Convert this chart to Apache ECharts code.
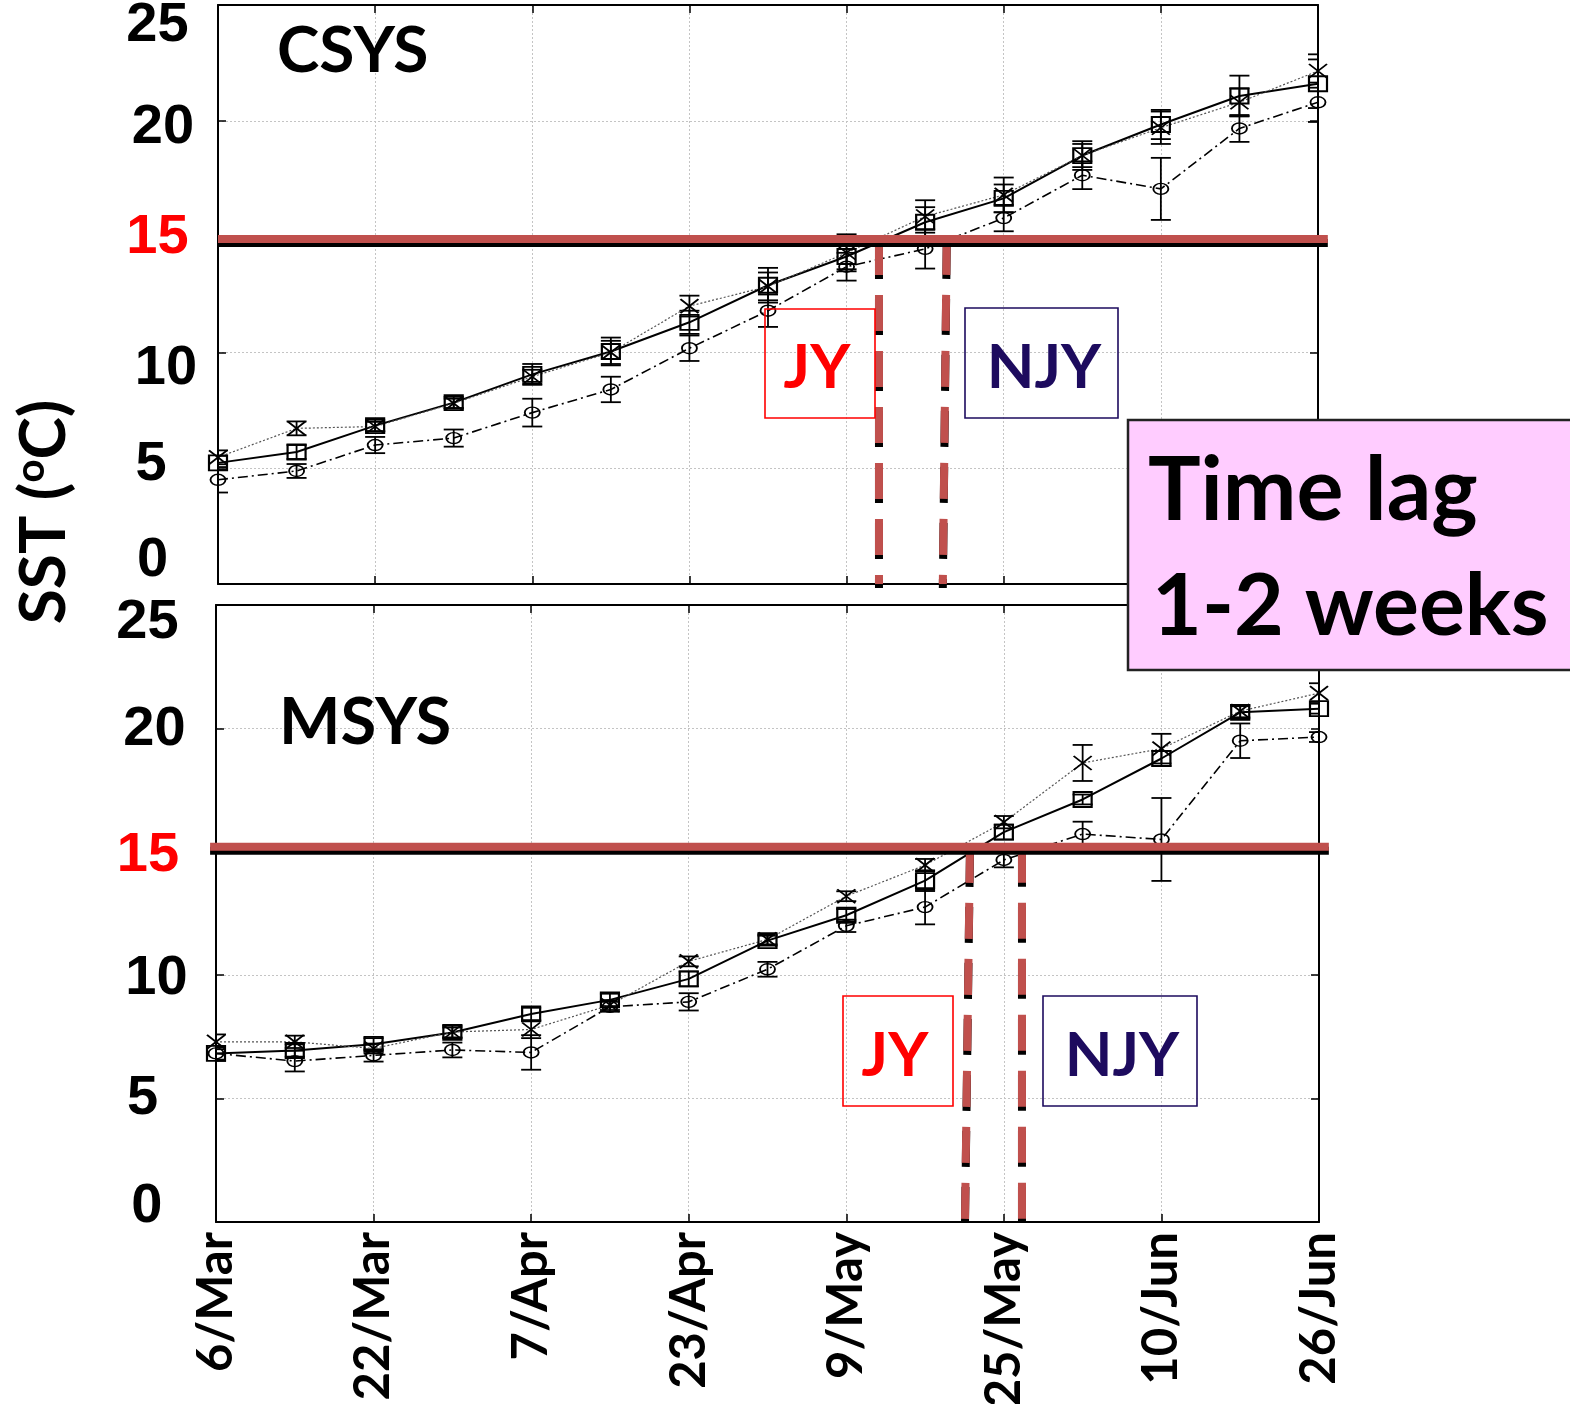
<!DOCTYPE html>
<html>
<head>
<meta charset="utf-8">
<script src="https://cdn.jsdelivr.net/npm/echarts@6/dist/echarts.min.js"></script>
<style>
  html, body { margin: 0; padding: 0; background: #fff; }
  #chart { width: 1570px; height: 1404px; }
</style>
</head>
<body>
<div id="chart"></div>
<script>
// 8-day sampling, offset in days from 6 March
var dayOffsets = [0, 8, 16, 24, 32, 40, 48, 56, 64, 72, 80, 88, 96, 104, 112];
var dayLabels = ['6/Mar', '14/Mar', '22/Mar', '30/Mar', '7/Apr', '15/Apr', '23/Apr', '1/May',
                 '9/May', '17/May', '25/May', '2/Jun', '10/Jun', '18/Jun', '26/Jun'];
var yTickValues = [0, 5, 10, 15, 20, 25];

// CSYS (top panel), SST in degC and error half-widths
var csysSquare = [5.23, 5.7, 6.84, 7.83, 9.05, 10.04, 11.3, 12.9, 14.14, 15.62, 16.65, 18.5, 19.84, 21.07, 21.6];
var csysSquareErr = [0.3, 0.3, 0.25, 0.25, 0.45, 0.6, 0.5, 0.75, 0.55, 0.65, 0.6, 0.5, 0.63, 0.88, 1.05];
var csysCross = [5.47, 6.72, 6.8, 7.8, 8.95, 10.0, 12.0, 12.85, 14.3, 15.87, 16.8, 18.5, 19.7, 20.8, 22.15];
var csysCrossErr = [0.3, 0.3, 0.2, 0.2, 0.3, 0.5, 0.45, 0.6, 0.8, 0.7, 0.75, 0.62, 0.7, 0.6, 0.72];
var csysCircle = [4.5, 4.88, 6.0, 6.3, 7.4, 8.4, 10.18, 11.8, 13.7, 14.47, 15.8, 17.65, 17.06, 19.67, 20.8];
var csysCircleErr = [0.55, 0.3, 0.35, 0.37, 0.6, 0.55, 0.55, 0.7, 0.6, 0.85, 0.57, 0.6, 1.34, 0.58, 0.85];
var csysThreshold = 14.9;
var csysThresholdSpan = [0, 113];
var csysLagLines = [[67.3, 67.3], [74.2, 73.8]];   // [day at top, day at bottom]

// MSYS (bottom panel)
var msysSquare = [6.83, 6.95, 7.2, 7.68, 8.43, 9.0, 9.85, 11.4, 12.43, 13.83, 15.8, 17.12, 18.78, 20.65, 20.8];
var msysSquareErr = [0.25, 0.25, 0.25, 0.2, 0.25, 0.25, 0.3, 0.2, 0.25, 0.42, 0.3, 0.2, 0.3, 0.25, 0.2];
var msysCross = [7.3, 7.3, 7.03, 7.7, 7.8, 8.79, 10.56, 11.45, 13.2, 14.46, 16.2, 18.6, 19.18, 20.7, 21.43];
var msysCrossErr = [0.3, 0.25, 0.2, 0.25, 0.35, 0.2, 0.2, 0.2, 0.2, 0.25, 0.25, 0.73, 0.6, 0.25, 0.4];
var msysCircle = [6.83, 6.52, 6.75, 6.97, 6.87, 8.72, 8.92, 10.24, 12.0, 12.76, 14.67, 15.72, 15.5, 19.5, 19.65];
var msysCircleErr = [0.3, 0.42, 0.25, 0.3, 0.7, 0.2, 0.35, 0.3, 0.25, 0.7, 0.3, 0.5, 1.68, 0.7, 0.2];
var msysThreshold = 15.2;
var msysThresholdSpan = [-0.6, 113];
var msysLagLines = [[76.56, 76.05], [81.84, 81.84]];

var RED = '#c0504d';
var LABEL_FONT = 'Lato';

// per-label nudges [dx, dy] of the hand placed y tick texts
var csysLabelShift = { 25: [-0.5, 21], 20: [5, 7], 15: [-0.5, 1], 10: [8, 16], 5: [-7, -4], 0: [-5.5, -23] };
var msysLabelShift = { 25: [-1.5, 18], 20: [5.5, 1], 15: [-1, 4], 10: [7.5, 3], 5: [-6.5, 0], 0: [-2.3, -15] };

var chart = echarts.init(document.getElementById('chart'));

function renderErrorBar(params, api) {
  var x = api.value(0);
  var top = api.coord([x, api.value(2)]);
  var bot = api.coord([x, api.value(1)]);
  var half = 10;
  var st = { stroke: '#000', lineWidth: 1.8, fill: null };
  return {
    type: 'group',
    children: [
      { type: 'line', shape: { x1: top[0], y1: top[1], x2: bot[0], y2: bot[1] }, style: st },
      { type: 'line', shape: { x1: top[0] - half, y1: top[1], x2: top[0] + half, y2: top[1] }, style: st },
      { type: 'line', shape: { x1: bot[0] - half, y1: bot[1], x2: bot[0] + half, y2: bot[1] }, style: st }
    ]
  };
}

// red marker segment with a black drop shadow underneath; item = [x0, y0, x1, y1]
function makeSegmentRenderer(dash) {
  return function (params, api) {
    var a = api.coord([api.value(0), api.value(1)]);
    var b = api.coord([api.value(2), api.value(3)]);
    return {
      type: 'line',
      shape: { x1: a[0], y1: a[1], x2: b[0], y2: b[1] },
      style: { stroke: RED, lineWidth: 8, lineDash: dash, fill: null,
               shadowColor: '#000', shadowBlur: 0, shadowOffsetX: 0, shadowOffsetY: 4 }
    };
  };
}

function pairs(vals) {
  return dayOffsets.map(function (d, i) { return [d, vals[i]]; });
}

function yLabel(margin, shifts) {
  var rich = {};
  yTickValues.forEach(function (v) {
    var dx = shifts[v][0], dy = shifts[v][1];
    rich['v' + v] = {
      fontFamily: 'Liberation Sans', fontWeight: 'bold', fontSize: 56,
      color: v === 15 ? '#ff0000' : '#000',
      padding: [Math.max(0, 2 * dy), Math.max(0, -2 * dx), Math.max(0, -2 * dy), Math.max(0, 2 * dx)]
    };
  });
  return {
    show: true, inside: false, margin: margin, align: 'center',
    showMinLabel: true, showMaxLabel: true,
    formatter: function (v) { return '{v' + v + '|' + v + '}'; },
    rich: rich
  };
}

var gridLine = { show: true, lineStyle: { color: '#c4c4c4', width: 1, type: [2, 2] } };
var axisLineBlack = { show: true, onZero: false, lineStyle: { color: '#000', width: 2 } };
var tickIn = { show: true, inside: true, length: 8, lineStyle: { color: '#000', width: 1.5 } };

function xAxisDef(gridIndex, position, withLabels, withGrid) {
  return {
    type: 'value', gridIndex: gridIndex, position: position,
    min: 0, max: 112, interval: 16,
    axisLine: axisLineBlack, axisTick: tickIn,
    splitLine: withGrid ? gridLine : { show: false },
    axisLabel: withLabels ? {
      show: true, rotate: 90, margin: 10,
      fontFamily: LABEL_FONT, fontWeight: 'bold', fontSize: 49, color: '#000',
      formatter: function (v) { var i = dayOffsets.indexOf(v); return i >= 0 ? dayLabels[i] : ''; }
    } : { show: false }
  };
}

function yAxisDef(gridIndex, position, label, withGrid) {
  return {
    type: 'value', gridIndex: gridIndex, position: position,
    min: 0, max: 25, interval: 5,
    axisLine: axisLineBlack, axisTick: tickIn,
    splitLine: withGrid ? gridLine : { show: false },
    axisLabel: label || { show: false }
  };
}

function panelSeries(p, sets, threshold, span, lagLines) {
  var ax = p * 2;
  var list = [];
  sets.forEach(function (s) {
    list.push({
      type: 'custom', xAxisIndex: ax, yAxisIndex: ax, clip: true, z: 3, silent: true,
      renderItem: renderErrorBar,
      data: dayOffsets.map(function (d, i) { return [d, s.vals[i] - s.err[i], s.vals[i] + s.err[i]]; })
    });
  });
  sets.forEach(function (s) {
    list.push({
      type: 'line', xAxisIndex: ax, yAxisIndex: ax, data: pairs(s.vals), z: 4, silent: true,
      showAllSymbol: true, symbol: s.symbol, symbolSize: s.size,
      lineStyle: s.line,
      itemStyle: { color: 'rgba(0,0,0,0)', borderColor: '#000', borderWidth: s.bw },
      emphasis: { disabled: true }
    });
  });
  list.push({
    type: 'custom', xAxisIndex: ax, yAxisIndex: ax, clip: false, z: 6, silent: true,
    renderItem: makeSegmentRenderer([36, 20]),
    data: lagLines.map(function (l) { return [l[0], threshold, l[1], 0]; })
  });
  list.push({
    type: 'custom', xAxisIndex: ax, yAxisIndex: ax, clip: false, z: 7, silent: true,
    renderItem: makeSegmentRenderer(null),
    data: [[span[0], threshold, span[1], threshold]]
  });
  return list;
}

function seriesSets(sq, sqE, cr, crE, ci, ciE) {
  return [
    { vals: sq, err: sqE, symbol: 'rect', size: [18, 15], bw: 2,
      line: { color: '#000', width: 2 } },
    { vals: cr, err: crE, symbol: 'path://M0,0L20,16M20,0L0,16', size: [18, 14], bw: 1.8,
      line: { color: '#555', width: 1.2, type: [2, 2] } },
    { vals: ci, err: ciE, symbol: 'path://M0,6A8,6 0 1,1 16,6A8,6 0 1,1 0,6Z', size: [15, 11], bw: 1.6,
      line: { color: '#000', width: 1.6, type: [10, 4, 2, 4] } }
  ];
}

var series = []
  .concat(panelSeries(0, seriesSets(csysSquare, csysSquareErr, csysCross, csysCrossErr, csysCircle, csysCircleErr),
    csysThreshold, csysThresholdSpan, csysLagLines))
  .concat(panelSeries(1, seriesSets(msysSquare, msysSquareErr, msysCross, msysCrossErr, msysCircle, msysCircleErr),
    msysThreshold, msysThresholdSpan, msysLagLines));

function boxText(x, y, w, h, text, color, tx, ty) {
  return [
    { type: 'rect', z: 90, shape: { x: x, y: y, width: w, height: h },
      style: { fill: 'rgba(0,0,0,0)', stroke: color, lineWidth: 1.6 } },
    { type: 'text', z: 91, x: tx, y: ty,
      style: { text: text, fill: color, fontFamily: LABEL_FONT, fontWeight: 'bold', fontSize: 62,
               align: 'center', verticalAlign: 'middle' } }
  ];
}

var graphics = []
  .concat([
    { type: 'text', z: 90, x: 277, y: 51,
      style: { text: 'CSYS', fill: '#000', fontFamily: LABEL_FONT, fontWeight: 'bold', fontSize: 64,
               align: 'left', verticalAlign: 'middle' } },
    { type: 'text', z: 90, x: 279, y: 723,
      style: { text: 'MSYS', fill: '#000', fontFamily: LABEL_FONT, fontWeight: 'bold', fontSize: 65,
               align: 'left', verticalAlign: 'middle' } }
  ])
  .concat(boxText(765, 309, 110, 109, 'JY', '#ff0000', 817, 368))
  .concat(boxText(965, 308, 153, 110, 'NJY', '#1d0b5e', 1044, 368))
  .concat(boxText(843, 996, 110, 110, 'JY', '#ff0000', 895, 1056))
  .concat(boxText(1043, 996, 154, 110, 'NJY', '#1d0b5e', 1122, 1056))
  .concat([
    { type: 'rect', z: 95, shape: { x: 1128, y: 420, width: 460, height: 250 },
      style: { fill: '#ffccff', stroke: '#222', lineWidth: 2.5 } },
    { type: 'text', z: 96, x: 1148, y: 492,
      style: { text: 'Time lag', fill: '#000', fontFamily: LABEL_FONT, fontWeight: 'bold', fontSize: 88,
               align: 'left', verticalAlign: 'middle' } },
    { type: 'text', z: 96, x: 1152, y: 607,
      style: { text: '1-2 weeks', fill: '#000', fontFamily: LABEL_FONT, fontWeight: 'bold', fontSize: 86,
               align: 'left', verticalAlign: 'middle' } },
    { type: 'text', z: 96, x: 44, y: 512, rotation: Math.PI / 2,
      style: {
        text: '{a|SST (}{o|o}{a|C)}', align: 'center', verticalAlign: 'middle',
        rich: {
          a: { fill: '#000', fontFamily: LABEL_FONT, fontWeight: 'bold', fontSize: 64 },
          o: { fill: '#000', fontFamily: LABEL_FONT, fontWeight: 'bold', fontSize: 40, padding: [0, 0, 26, 0] }
        }
      } }
  ]);

var option = {
  animation: false,
  backgroundColor: '#fff',
  grid: [
    { left: 218, top: 5, width: 1100, height: 579, outerBoundsMode: 'none', containLabel: false },
    { left: 216, top: 605, width: 1103, height: 617, outerBoundsMode: 'none', containLabel: false }
  ],
  xAxis: [
    xAxisDef(0, 'bottom', false, true),
    xAxisDef(0, 'top', false, false),
    xAxisDef(1, 'bottom', true, true),
    xAxisDef(1, 'top', false, false)
  ],
  yAxis: [
    yAxisDef(0, 'left', yLabel(60, csysLabelShift), true),
    yAxisDef(0, 'right', null, false),
    yAxisDef(1, 'left', yLabel(67, msysLabelShift), true),
    yAxisDef(1, 'right', null, false)
  ],
  series: series,
  graphic: graphics
};

chart.setOption(option);
</script>
</body>
</html>
